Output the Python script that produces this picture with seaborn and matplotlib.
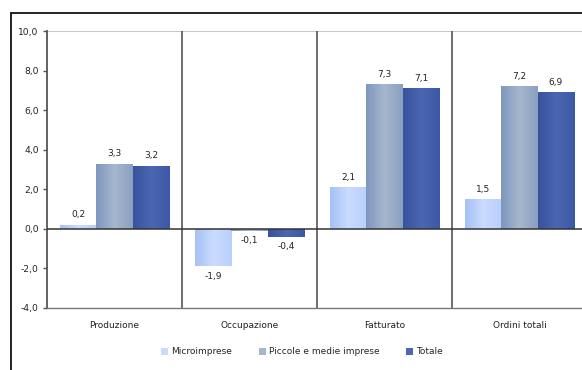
import numpy as np
import pandas as pd
import matplotlib
matplotlib.use("Agg")
import matplotlib.pyplot as plt
import seaborn as sns
from matplotlib.patches import Patch
from matplotlib.lines import Line2D
from matplotlib.colors import LinearSegmentedColormap
from matplotlib.ticker import FuncFormatter

# Data
categories = ["Produzione", "Occupazione", "Fatturato", "Ordini totali"]
series = ["Microimprese", "Piccole e medie imprese", "Totale"]
micro = [0.2, -1.9, 2.1, 1.5]
pmi = [3.3, -0.1, 7.3, 7.2]
totale = [3.2, -0.4, 7.1, 6.9]
y_ticks = [-4, -2, 0, 2, 4, 6, 8, 10]

df = pd.DataFrame({
    "categoria": categories * 3,
    "serie": [s for s in series for _ in categories],
    "valore": micro + pmi + totale,
})

base_colors = {"Microimprese": "#b3ccfa",
               "Piccole e medie imprese": "#90a6c6",
               "Totale": "#3f5aa8"}
gradients = {
    "Microimprese": ["#a6c1f5", "#c9dbff", "#b9cffb"],
    "Piccole e medie imprese": ["#7e97bf", "#a6b7cd", "#8aa0c1"],
    "Totale": ["#38529f", "#4b67b0", "#3d58a6"],
}

sns.set_theme(style="white")
plt.rcParams["font.family"] = ["DejaVu Sans"]

fig = plt.figure(figsize=(5.82, 3.70), dpi=100)
W, H = 582, 370
ax = fig.add_axes([47 / W, 1 - 308 / H, (587 - 47) / W, (308 - 31) / H])

sns.barplot(data=df, x="categoria", y="valore", hue="serie",
            order=categories, hue_order=series, palette=base_colors,
            width=0.81, gap=0, saturation=1, legend=False, ax=ax, zorder=3)

ax.set_ylim(-4, 10)
ax.set_xlim(-0.5, len(categories) - 0.5)

# horizontal gradient fill inside each bar
for container, name in zip(ax.containers, series):
    cmap = LinearSegmentedColormap.from_list(name, gradients[name])
    grad = np.linspace(0, 1, 64).reshape(1, -1)
    for bar, val in zip(container, container.datavalues):
        x0, w = bar.get_x(), bar.get_width()
        y0, h = bar.get_y(), bar.get_height()
        im = ax.imshow(grad, cmap=cmap, aspect="auto",
                       extent=[x0, x0 + w, min(y0, y0 + h), max(y0, y0 + h)],
                       zorder=4, interpolation="bilinear")
        im.set_clip_path(bar)
        label = f"{val:.1f}".replace(".", ",")
        if val >= 0:
            ax.annotate(label, (x0 + w / 2, val), xytext=(0, 4),
                        textcoords="offset points", ha="center", va="bottom",
                        fontsize=6.5, color="#222222")
        else:
            ax.annotate(label, (x0 + w / 2, val), xytext=(0, -4),
                        textcoords="offset points", ha="center", va="top",
                        fontsize=6.5, color="#222222")
ax.set_ylim(-4, 10)
ax.set_xlim(-0.5, len(categories) - 0.5)

# category separators, zero line and frame lines
for xs in np.arange(0.5, len(categories) - 0.5, 1):
    ax.axvline(xs, color="#555555", lw=1.2, zorder=2)
ax.axhline(0, color="#333333", lw=1.1, zorder=5)
ax.axhline(10, color="#c8c8c8", lw=1.5, zorder=1)

for side in ["top", "right"]:
    ax.spines[side].set_visible(False)
ax.spines["left"].set_color("#555555")
ax.spines["left"].set_linewidth(1.3)
ax.spines["bottom"].set_color("#777777")
ax.spines["bottom"].set_linewidth(1.0)

ax.set_yticks(y_ticks)
ax.yaxis.set_major_formatter(FuncFormatter(lambda v, p: f"{v:.1f}".replace(".", ",")))
ax.tick_params(axis="y", which="both", left=True, length=3, width=1,
               color="#555555", labelsize=6.6, labelcolor="#222222", pad=3)
ax.tick_params(axis="x", bottom=False, labelsize=6.5, labelcolor="#222222", pad=3.5)
ax.set_xlabel("")
ax.set_ylabel("")
ax.grid(False)

# legend below the plot
handles = [Patch(facecolor=gradients[s][1], edgecolor="none") for s in series]
fig.legend(handles, series, loc="center", bbox_to_anchor=(302 / W, 1 - 352 / H),
           ncol=3, frameon=False, fontsize=6.5, handlelength=0.75,
           handleheight=0.75, handletextpad=0.35, columnspacing=3.0)

# outer chart frame
fig.add_artist(Line2D([11 / W, 11 / W], [0, 1 - 13 / H], transform=fig.transFigure,
                      color="#111111", lw=1.3))
fig.add_artist(Line2D([11 / W, 1], [1 - 13 / H, 1 - 13 / H], transform=fig.transFigure,
                      color="#111111", lw=1.3))

fig.savefig("out.png", dpi=100)
